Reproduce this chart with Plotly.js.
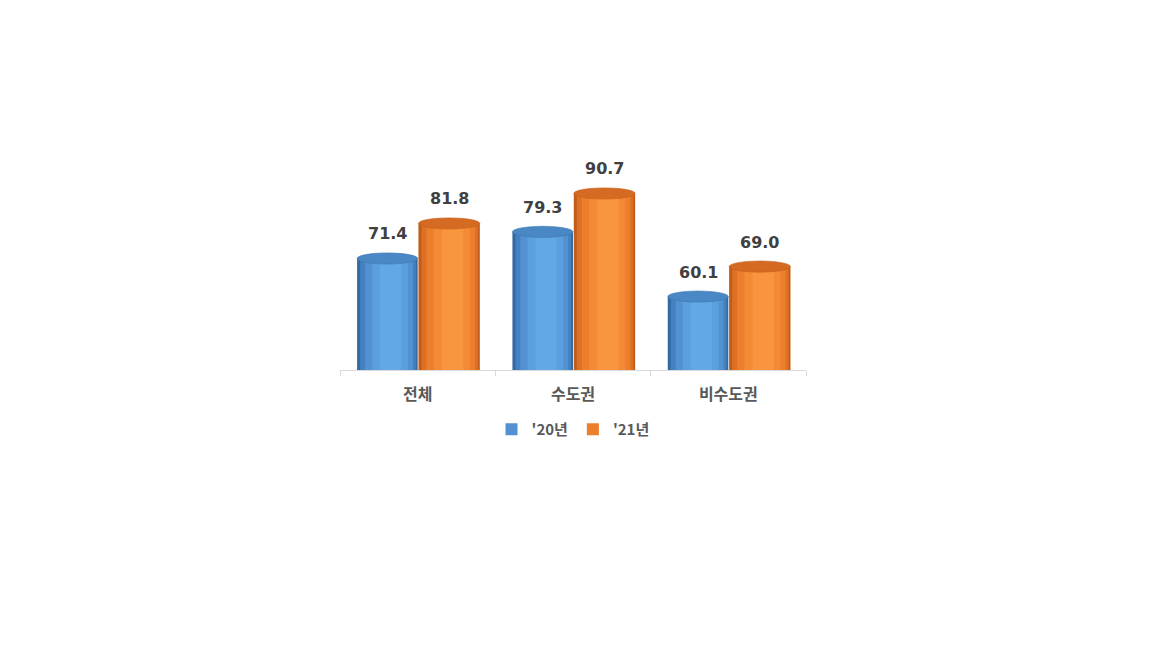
<!DOCTYPE html>
<html>
<head>
<meta charset="utf-8">
<script src="https://cdn.plot.ly/plotly-3.0.1.min.js"></script>
<style>
  html, body { margin: 0; padding: 0; background: #ffffff; }
  #chart { width: 1152px; height: 648px; }
</style>
</head>
<body>
<div id="chart"></div>
<script>
// chart data
const categories = ['전체', '수도권', '비수도권'];
const seriesNames = ["'20년", "'21년"];
const values2020 = [71.4, 79.3, 60.1];
const values2021 = [81.8, 90.7, 69.0];

// cylinder look: layered bars, darker at the edges
const blueShades = ['#336aa3', '#4581bf', '#5292d2', '#5c9fde', '#63a8e6'];
const orangeShades = ['#c25c17', '#dd7025', '#ec7e2c', '#f48a35', '#f9953f'];
const insets = [[0, 0], [0.05, 0.03], [0.13, 0.08], [0.25, 0.16], [0.38, 0.27]];
const legendLayer = 2;

const makeCylinder = (name, vals, offset, width, shades) => {
    return shades.map((c, k) => {
        const l = insets[k][0] * width;
        const r = insets[k][1] * width;
        return {
            x: categories,
            y: vals,
            type: 'bar',
            name: name,
            showlegend: k === legendLayer,
            legendgroup: name,
            offset: offset + l,
            width: width - l - r,
            marker: { color: c, line: { width: 0 } },
            hoverinfo: k === 0 ? 'y+name' : 'skip',
        };
    });
};

const series = [
    { name: seriesNames[0], vals: values2020, offset: -0.39, width: 0.39, shades: blueShades, cap: '#4a87c5', capEdge: '#3d76b0' },
    { name: seriesNames[1], vals: values2021, offset: 0.005, width: 0.395, shades: orangeShades, cap: '#d56b22', capEdge: '#c25f1b' },
];

const data = [];
const shapes = [];
const annotations = [];

series.forEach((s) => {
    data.push(...makeCylinder(s.name, s.vals, s.offset, s.width, s.shades));
    s.vals.forEach((v, i) => {
        // top ellipse of the cylinder
        shapes.push({
            type: 'circle',
            xref: 'x', yref: 'y',
            x0: i + s.offset, x1: i + s.offset + s.width,
            y0: v - 1.65, y1: v + 1.65,
            fillcolor: s.cap,
            line: { color: s.capEdge, width: 0.6 },
            layer: 'above',
        });
        annotations.push({
            x: i + s.offset + s.width / 2,
            y: v,
            xref: 'x', yref: 'y',
            text: v.toFixed(1),
            showarrow: false,
            yanchor: 'bottom',
            yshift: 13,
            font: { family: 'DejaVu Sans, Verdana, sans-serif', size: 16, color: '#404040', weight: 'bold' },
        });
    });
});

const layout = {
    width: 1152,
    height: 648,
    barmode: 'overlay',
    showlegend: true,
    legend: {
        orientation: 'h',
        x: 0.5,
        xanchor: 'center',
        y: -0.27,
        yanchor: 'middle',
        font: { family: 'Noto Sans CJK KR, DejaVu Sans, sans-serif', size: 15, color: '#595959', weight: 'bold' },
        itemwidth: 30,
        traceorder: 'normal',
    },
    xaxis: {
        type: 'category',
        range: [-0.5, 2.5],
        showline: true,
        linecolor: '#d9d9d9',
        linewidth: 1,
        ticks: 'outside',
        tickson: 'boundaries',
        ticklen: 5,
        tickcolor: '#d9d9d9',
        ticklabelstandoff: 10,
        showgrid: false,
        zeroline: false,
        tickfont: { family: 'Noto Sans CJK KR, sans-serif', size: 16, color: '#595959', weight: 'bold' },
        fixedrange: true,
    },
    yaxis: {
        range: [38.3, 103.6],
        visible: false,
        showgrid: false,
        zeroline: false,
        fixedrange: true,
    },
    shapes: shapes,
    annotations: annotations,
    plot_bgcolor: '#ffffff',
    paper_bgcolor: '#ffffff',
    margin: { l: 340, r: 346, t: 150, b: 278, pad: 0 },
    hovermode: 'closest',
};

Plotly.newPlot('chart', data, layout, { displayModeBar: false, responsive: false });
</script>
</body>
</html>
